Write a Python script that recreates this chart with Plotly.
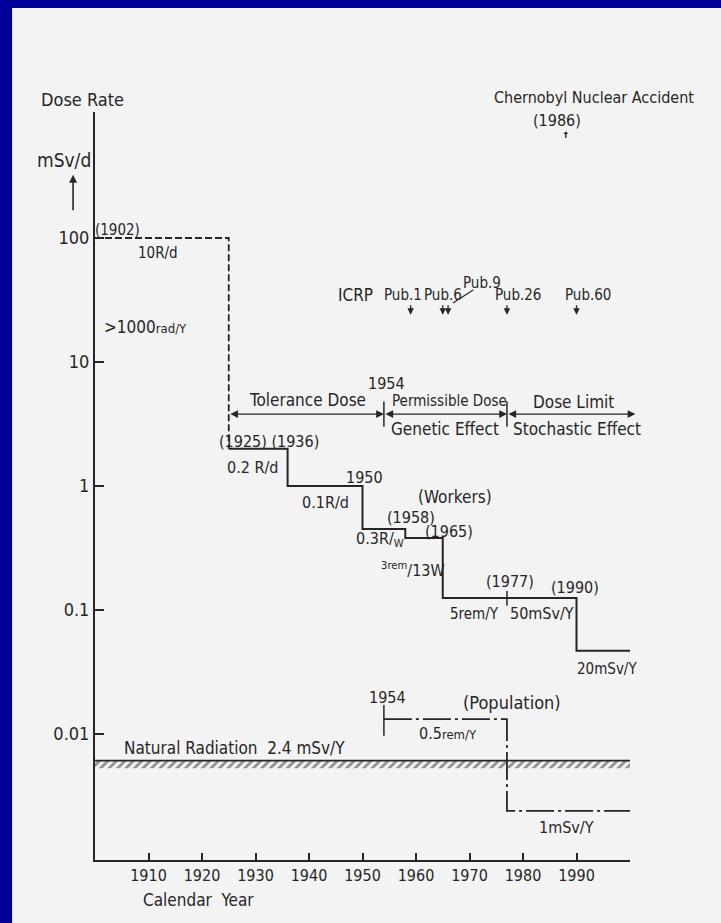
import numpy as np
import plotly.graph_objects as go

# ---------------- data (dose rate in mSv/d vs calendar year) ----------------
early_years = [1900, 1925]
early_rates = [100.0, 2.0]                 # 10 R/d (1902) - dashed
worker_years = [1925, 1936, 1950, 1958, 1965, 1990, 2000]
worker_rates = [2.0, 1.0, 0.45, 0.38, 0.125, 0.047, 0.047]
worker_mark_year = [1977, 1977]
worker_mark_rates = [0.142, 0.108]
pop_years = [1954, 1977, 2000]
pop_rates = [0.0132, 0.0024, 0.0024]
pop_mark_year = [1954, 1954]
pop_mark_rates = [0.0171, 0.0097]
natural_years = [1900, 2000]
natural_top = 0.0061
natural_bottom = 0.0053
regime_years = [1925, 1954, 1977, 2001]
regime_rate = 3.8
regime_mark_rates = [3.0, 4.8]
icrp_pub_years = [1959, 1965, 1966, 1977, 1990]
icrp_pub_rate = 24.0
pub9_leader_years = [1966.9, 1970.7]
pub9_leader_rates = [29.9, 38.1]
x_tick_years = [1910, 1920, 1930, 1940, 1950, 1960, 1970, 1980, 1990, 2000]
x_tick_labels = ["1910", "1920", "1930", "1940", "1950", "1960", "1970", "1980", "1990", ""]
y_tick_vals = [100, 10, 1, 0.1, 0.01]
y_tick_labels = ["100", "10", "1", "0.1", "0.01"]

INK = "#262626"
PAPER = "#f3f3f3"
FONT = "DejaVu Sans Condensed, Liberation Sans Narrow, Arial Narrow, sans-serif"

fig = go.Figure()

# natural radiation hatched band
fig.add_trace(go.Scatter(
    x=[natural_years[0], natural_years[1], natural_years[1], natural_years[0], natural_years[0]],
    y=[natural_top, natural_top, natural_bottom, natural_bottom, natural_top],
    mode="lines", fill="toself", fillcolor=PAPER,
    fillpattern=dict(shape="/", fgcolor=INK, bgcolor=PAPER, size=6, solidity=0.45),
    line=dict(width=0, color="rgba(0,0,0,0)"), hoverinfo="skip"))
fig.add_trace(go.Scatter(x=natural_years, y=[natural_top, natural_top], mode="lines",
                         line=dict(color=INK, width=1.6)))

# early limit (dashed)
fig.add_trace(go.Scatter(x=early_years, y=early_rates, mode="lines", line_shape="hv",
                         line=dict(color=INK, width=1.8, dash="7px,3px")))
# workers
fig.add_trace(go.Scatter(x=worker_years, y=worker_rates, mode="lines", line_shape="hv",
                         line=dict(color=INK, width=2)))
fig.add_trace(go.Scatter(x=worker_mark_year, y=worker_mark_rates, mode="lines",
                         line=dict(color=INK, width=1.5)))
# population
fig.add_trace(go.Scatter(x=pop_years, y=pop_rates, mode="lines", line_shape="hv",
                         line=dict(color=INK, width=1.8, dash="28px,4px,3px,4px")))
fig.add_trace(go.Scatter(x=pop_mark_year, y=pop_mark_rates, mode="lines",
                         line=dict(color=INK, width=1.5)))
# regime separators
for yr in regime_years[1:3]:
    fig.add_trace(go.Scatter(x=[yr, yr], y=regime_mark_rates, mode="lines",
                             line=dict(color=INK, width=1.5)))
# Pub.9 leader
fig.add_trace(go.Scatter(x=pub9_leader_years, y=pub9_leader_rates, mode="lines",
                         line=dict(color=INK, width=1.2)))

annotations = []
# regime arrows
for a, b in zip(regime_years[:-1], regime_years[1:]):
    annotations.append(dict(x=b, y=np.log10(regime_rate), ax=a, ay=np.log10(regime_rate),
                            xref="x", yref="y", axref="x", ayref="y", text="",
                            showarrow=True, arrowside="end+start", arrowhead=2,
                            startarrowhead=2, arrowsize=1.1, startarrowsize=1.1,
                            arrowwidth=1.4, arrowcolor=INK))
# ICRP publication arrows
for yr in icrp_pub_years:
    annotations.append(dict(x=yr, y=np.log10(icrp_pub_rate), ax=0, ay=-11,
                            xref="x", yref="y", text="", showarrow=True,
                            arrowhead=2, arrowsize=1, arrowwidth=1.3, arrowcolor=INK))

SMALL = "<span style='font-size:13px'>"
labels = [
    ("(1902)", 1904.2, 2.065, 15), ("10R/d", 1911.8, 1.879, 15),
    (">1000" + SMALL + "rad/Y</span>", 1909.5, 1.282, 17),
    ("(1925) (1936)", 1932.6, 0.355, 16), ("0.2 R/d", 1929.5, 0.153, 16),
    ("0.1R/d", 1943.1, -0.129, 16), ("1950", 1950.4, 0.065, 16),
    ("(Workers)", 1967.3, -0.089, 17),
    ("(1958)", 1959.0, -0.25, 16), ("(1965)", 1966.1, -0.363, 16),
    ("0.3R/<sub>W</sub>", 1953.2, -0.435, 16),
    ("<sup>3rem</sup>/13W", 1959.5, -0.677, 16), ("(1977)", 1977.5, -0.774, 16),
    ("(1990)", 1989.8, -0.815, 16),
    ("5rem/Y", 1971.0, -1.032, 15), ("50mSv/Y", 1983.5, -1.032, 16),
    ("20mSv/Y", 1995.7, -1.476, 15),
    ("1954", 1954.7, -1.702, 16), ("(Population)", 1978.0, -1.742, 18),
    ("0.5" + SMALL + "rem/Y</span>", 1965.9, -1.992, 16),
    ("1mSv/Y", 1988.2, -2.75, 16), ("Natural Radiation  2.4 mSv/Y", 1926.0, -2.113, 17),
    ("Tolerance Dose", 1939.7, 0.694, 17), ("1954", 1954.5, 0.83, 16),
    ("Permissible Dose", 1966.2, 0.685, 15), ("Dose Limit", 1989.4, 0.677, 17),
    ("Genetic Effect", 1965.4, 0.46, 17), ("Stochastic Effect", 1990.1, 0.46, 17),
    ("ICRP", 1948.7, 1.54, 17), ("Pub.1", 1957.6, 1.54, 15), ("Pub.6", 1965.0, 1.54, 15),
    ("Pub.9", 1972.4, 1.637, 15), ("Pub.26", 1979.1, 1.54, 15), ("Pub.60", 1992.1, 1.54, 15),
]
for t, x, y, s in labels:
    annotations.append(dict(x=x, y=y, xref="x", yref="y", text=t, showarrow=False,
                            xanchor="center", yanchor="middle",
                            font=dict(family=FONT, size=s, color=INK)))

paper_labels = [
    ("Dose Rate", -0.023, 1.017, 18), ("mSv/d", -0.058, 0.936, 19),
    ("Chernobyl Nuclear Accident", 0.933, 1.019, 16), ("(1986)", 0.863, 0.989, 16),
    ("Calendar  Year", 0.194, -0.053, 17),
]
for t, x, y, s in paper_labels:
    annotations.append(dict(x=x, y=y, xref="paper", yref="paper", text=t, showarrow=False,
                            xanchor="center", yanchor="middle",
                            font=dict(family=FONT, size=s, color=INK)))
# unit arrow and Chernobyl marker
annotations.append(dict(x=-0.041, y=0.916, xref="paper", yref="paper", ax=0, ay=37, text="",
                        showarrow=True, arrowhead=2, arrowsize=1, arrowwidth=1.6, arrowcolor=INK))
annotations.append(dict(x=0.880, y=0.974, xref="paper", yref="paper", ax=0, ay=8, text="",
                        showarrow=True, arrowhead=1, arrowsize=0.6, arrowwidth=1.4, arrowcolor=INK))

fig.update_layout(
    width=721, height=923,
    margin=dict(l=95, r=91, t=112, b=63, autoexpand=False),
    paper_bgcolor="#000099", plot_bgcolor="rgba(0,0,0,0)",
    showlegend=False,
    annotations=annotations,
    shapes=[dict(type="rect", xref="paper", yref="paper", x0=-0.155, x1=1.2,
                 y0=-0.1, y1=1.139, fillcolor=PAPER, line=dict(width=0), layer="below")],
    xaxis=dict(range=[1900, 2000], tickvals=x_tick_years, ticktext=x_tick_labels,
               ticks="inside", ticklen=7, tickwidth=2, tickcolor=INK,
               showline=True, linewidth=2, linecolor=INK, showgrid=False, zeroline=False,
               tickfont=dict(family=FONT, size=16, color=INK)),
    yaxis=dict(type="log", range=[-3.016, 3.016], tickvals=y_tick_vals, ticktext=y_tick_labels,
               ticks="inside", ticklen=9, tickwidth=2, tickcolor=INK,
               showline=True, linewidth=2, linecolor=INK, showgrid=False, zeroline=False,
               tickfont=dict(family=FONT, size=18, color=INK)),
)

fig.write_html("out.html")
